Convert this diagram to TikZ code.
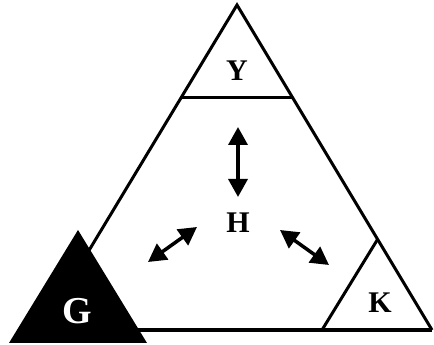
\documentclass[tikz,border=0pt]{standalone}
\usepackage{fontspec}
\setmainfont{Liberation Serif}
\usetikzlibrary{arrows.meta,calc}
\begin{document}
\begin{tikzpicture}[x=1pt,y=1pt,
  edge/.style={line width=3pt,line join=miter},
  lbl/.style={font=\bfseries\fontsize{30}{33}\selectfont,anchor=base,inner sep=0pt},
  dbl/.style={line width=3.5pt,{Triangle[length=18pt,width=19pt]}-{Triangle[length=18pt,width=19pt]}}]
\useasboundingbox (0,0) rectangle (434,345);
\coordinate (A) at (237,340);
\coordinate (L) at (41,15);
\coordinate (R) at (432,15);
% big triangle
\draw[edge] (L) -- (A) -- (R);
\draw[line width=4.5pt] (L) -- (R);
% Y line
\coordinate (Y1) at ($(A)!0.285!(L)$);
\coordinate (Y2) at ($(A)!0.285!(R)$);
\draw[edge] (Y1) -- (Y2);
% K triangle
\coordinate (KA) at ($(A)!0.721!(R)$);
\coordinate (KL) at (322,15);
\draw[edge] (KA) -- (KL);
% G triangle
\coordinate (GA) at (78,115);
\coordinate (GL) at (9,2);
\coordinate (GR) at (147,2);
\fill[black] (GA) -- (GL) -- (GR) -- cycle;
% labels
\node[lbl] (Y) at (237,264) {Y};
\node[lbl] (H) at (238,112) {H};
\node[lbl] (K) at (380,32) {K};
\node[lbl,text=white,font=\bfseries\fontsize{38}{41}\selectfont] (G) at (77,21) {G};
% arrows
\coordinate (v1) at (238,218);
\coordinate (v2) at (238,148);
\coordinate (l1) at (148,83);
\coordinate (l2) at (197,118);
\coordinate (r1) at (280,115);
\coordinate (r2) at (329,80);
\draw[dbl] (v1) -- (v2);
\draw[dbl] (l1) -- (l2);
\draw[dbl] (r1) -- (r2);
\end{tikzpicture}
\end{document}
